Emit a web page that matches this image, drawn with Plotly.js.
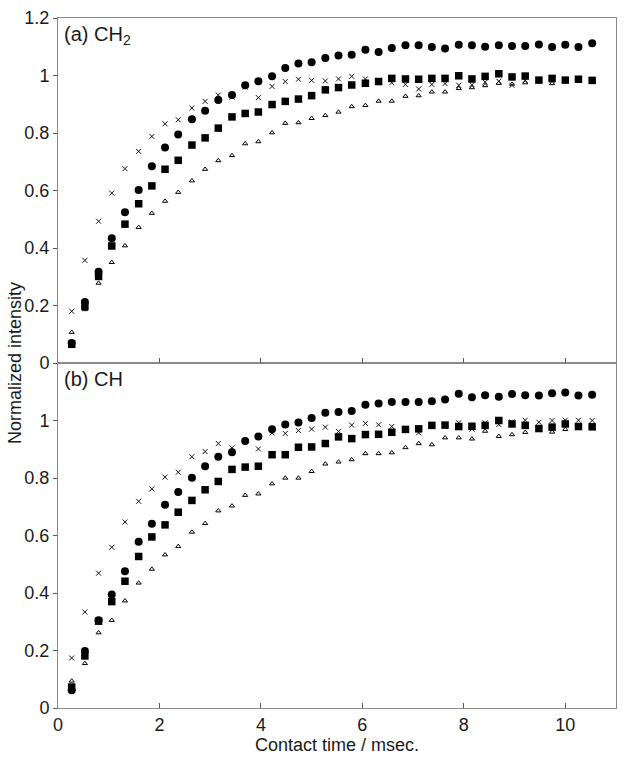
<!DOCTYPE html>
<html>
<head>
<meta charset="utf-8">
<script src="https://cdn.plot.ly/plotly-3.0.1.min.js"></script>
<style>html,body{margin:0;padding:0;background:#fff;}#chart{width:625px;height:765px;}</style>
</head>
<body>
<div id="chart"></div>
<script>
const contactTime = [0.27,0.53,0.80,1.06,1.32,1.59,1.85,2.11,2.37,2.64,2.90,3.16,3.43,3.69,3.95,4.22,4.48,4.74,5.00,5.27,5.53,5.79,6.06,6.32,6.58,6.85,7.11,7.37,7.63,7.90,8.16,8.42,8.69,8.95,9.21,9.48,9.74,10.00,10.26,10.53];

const ch2Circle = [0.07,0.212,0.317,0.434,0.524,0.602,0.684,0.750,0.795,0.848,0.877,0.915,0.932,0.966,0.980,0.997,1.026,1.042,1.046,1.061,1.070,1.072,1.090,1.082,1.096,1.105,1.105,1.099,1.094,1.107,1.105,1.100,1.105,1.103,1.103,1.108,1.099,1.107,1.099,1.112];
const ch2Square = [0.065,0.197,0.301,0.407,0.483,0.554,0.616,0.674,0.705,0.758,0.783,0.817,0.856,0.868,0.873,0.899,0.910,0.918,0.930,0.950,0.958,0.967,0.973,0.979,0.990,0.988,0.987,0.990,0.990,0.999,0.988,0.997,1.006,0.995,0.998,0.984,0.990,0.984,0.987,0.983];
const ch2Cross = [0.180,0.357,0.493,0.591,0.676,0.736,0.788,0.832,0.846,0.887,0.910,0.932,0.925,0.960,0.923,0.962,0.979,0.987,0.983,0.981,0.988,0.997,0.988,0.980,0.975,0.969,0.953,0.969,0.972,0.966,0.968,0.977,0.980,0.966,0.983,0.985,0.983,0.985,0.985,0.985];
const ch2Triangle = [0.107,0.186,0.278,0.350,0.408,0.472,0.521,0.563,0.594,0.634,0.674,0.704,0.722,0.763,0.770,0.801,0.834,0.836,0.851,0.861,0.873,0.892,0.896,0.911,0.911,0.928,0.930,0.943,0.943,0.955,0.958,0.965,0.973,0.970,0.975,0.980,0.972,0.980,0.980,0.980];

const chCircle = [0.062,0.198,0.305,0.395,0.476,0.578,0.641,0.707,0.751,0.801,0.841,0.874,0.890,0.929,0.944,0.970,0.986,0.993,1.009,1.027,1.030,1.033,1.055,1.059,1.064,1.064,1.064,1.067,1.073,1.093,1.081,1.088,1.083,1.092,1.088,1.087,1.095,1.097,1.087,1.090];
const chSquare = [0.073,0.181,0.302,0.370,0.441,0.527,0.595,0.637,0.681,0.722,0.759,0.788,0.830,0.838,0.841,0.881,0.881,0.907,0.908,0.920,0.943,0.937,0.951,0.952,0.959,0.969,0.971,0.983,0.984,0.979,0.980,0.983,1.000,0.988,0.983,0.972,0.977,0.988,0.979,0.978];
const chCross = [0.174,0.334,0.469,0.559,0.647,0.719,0.762,0.803,0.820,0.874,0.892,0.920,0.905,0.930,0.901,0.957,0.955,0.965,0.970,0.977,0.962,0.984,0.990,0.985,0.979,0.970,0.957,0.980,0.980,0.992,0.970,0.992,0.986,0.995,1.001,0.994,1.000,1.001,1.001,1.000];
const chTriangle = [0.094,0.155,0.262,0.305,0.373,0.435,0.483,0.533,0.562,0.612,0.642,0.686,0.703,0.740,0.745,0.780,0.800,0.800,0.823,0.849,0.856,0.864,0.885,0.885,0.888,0.906,0.920,0.916,0.940,0.940,0.936,0.963,0.945,0.951,0.959,0.974,0.960,0.969,0.980,0.980];

const yTicksTop = [0,0.2,0.4,0.6,0.8,1,1.2];
const yLabelsTop = ['0','0.2','0.4','0.6','0.8','1','1.2'];
const yTicksBottom = [0,0.2,0.4,0.6,0.8,1];
const yLabelsBottom = ['0','0.2','0.4','0.6','0.8','1'];
const xTicks = [0,2,4,6,8,10];
const panelLabels = ['(a) CH<sub>2</sub>', '(b) CH'];

const FONT = 'Liberation Sans, Arial, sans-serif';
const AX = '#8a8a8a';
const TXT = '#1a1a1a';

function mk(y, ya, xa, symbol, size, filled) {
  return {
    x: contactTime, y: y, xaxis: xa, yaxis: ya, type: 'scatter', mode: 'markers',
    showlegend: false, hoverinfo: 'skip',
    marker: filled ? {symbol: symbol, size: size, color: '#000', line: {width: 0}}
                   : {symbol: symbol, size: size, color: '#000', line: {width: 1, color: '#111'}}
  };
}

const data = [
  mk(ch2Triangle, 'y2', 'x2', 'triangle-up-open', 4.5, false),
  mk(ch2Cross, 'y2', 'x2', 'x-thin', 5, false),
  mk(ch2Circle, 'y2', 'x2', 'circle', 8, true),
  mk(ch2Square, 'y2', 'x2', 'square', 7.5, true),
  mk(chTriangle, 'y', 'x', 'triangle-up-open', 4.5, false),
  mk(chCross, 'y', 'x', 'x-thin', 5, false),
  mk(chCircle, 'y', 'x', 'circle', 8, true),
  mk(chSquare, 'y', 'x', 'square', 7.5, true)
];

const xBase = {
  range: [0, 11], tickvals: xTicks, ticks: 'inside', ticklen: 5, tickwidth: 1, tickcolor: '#555',
  showline: true, linecolor: AX, linewidth: 1, mirror: true, showgrid: false, zeroline: false,
  tickfont: {family: FONT, size: 18, color: TXT}
};
const yBase = {
  range: [0, 1.2], ticks: 'outside', ticklen: 4, tickwidth: 1, tickcolor: '#555',
  showline: true, linecolor: AX, linewidth: 1, mirror: true, showgrid: false, zeroline: false,
  tickfont: {family: FONT, size: 18, color: TXT}
};

const layout = {
  width: 625, height: 765,
  margin: {l: 58, r: 9, t: 18, b: 57},
  paper_bgcolor: '#fff', plot_bgcolor: '#fff',
  font: {family: FONT, color: TXT},
  xaxis: Object.assign({}, xBase, {anchor: 'y', domain: [0, 1],
    title: {text: 'Contact time / msec.', font: {family: FONT, size: 18, color: TXT}, standoff: 4}}),
  xaxis2: Object.assign({}, xBase, {anchor: 'y2', matches: 'x', showticklabels: false, domain: [0, 1]}),
  yaxis: Object.assign({}, yBase, {anchor: 'x', domain: [0, 0.5], tickvals: yTicksBottom, ticktext: yLabelsBottom}),
  yaxis2: Object.assign({}, yBase, {anchor: 'x2', domain: [0.5, 1], tickvals: yTicksTop, ticktext: yLabelsTop}),
  annotations: [
    {text: panelLabels[0], xref: 'x2 domain', yref: 'y2 domain', x: 0.008, y: 0.99, xanchor: 'left', yanchor: 'top',
     showarrow: false, font: {family: FONT, size: 20, color: TXT}},
    {text: panelLabels[1], xref: 'x domain', yref: 'y domain', x: 0.008, y: 0.99, xanchor: 'left', yanchor: 'top',
     showarrow: false, font: {family: FONT, size: 20, color: TXT}},
    {text: 'Normalized intensity', xref: 'paper', yref: 'paper', x: -0.077, y: 0.5, textangle: -90,
     xanchor: 'center', yanchor: 'middle', showarrow: false, font: {family: FONT, size: 18, color: TXT}}
  ]
};

Plotly.newPlot('chart', data, layout, {displayModeBar: false, staticPlot: true});
</script>
</body>
</html>
